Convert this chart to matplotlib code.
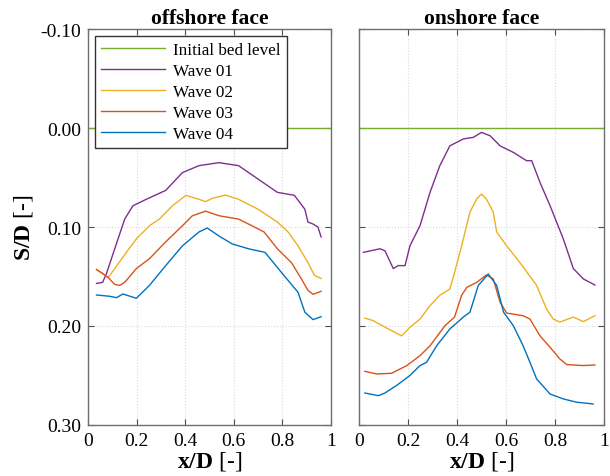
import matplotlib
matplotlib.use("Agg")
import matplotlib.pyplot as plt

plt.rcParams['font.family'] = ['Liberation Serif', 'DejaVu Serif']
plt.rcParams['mathtext.fontset'] = 'custom'
plt.rcParams['mathtext.rm'] = 'Liberation Serif'
plt.rcParams['mathtext.bf'] = 'Liberation Serif:bold'

# MATLAB default colours
c_init = '#77AC30'
c_w1 = '#7E2F8E'
c_w2 = '#EDB120'
c_w3 = '#D95319'
c_w4 = '#0072BD'

# ---- offshore face ----
off_x1 = [0.035, 0.06, 0.076, 0.11, 0.151, 0.185, 0.24, 0.32, 0.389, 0.457, 0.539, 0.62, 0.70, 0.78, 0.85, 0.893, 0.906, 0.927, 0.947, 0.96]
off_w1 = [0.157, 0.156, 0.147, 0.122, 0.092, 0.0785, 0.072, 0.063, 0.045, 0.038, 0.035, 0.038, 0.0515, 0.065, 0.068, 0.082, 0.095, 0.097, 0.100, 0.110]

off_x2 = [0.035, 0.06, 0.083, 0.11, 0.158, 0.199, 0.253, 0.294, 0.348, 0.403, 0.457, 0.484, 0.512, 0.566, 0.62, 0.70, 0.78, 0.824, 0.865, 0.906, 0.933, 0.96]
off_w2 = [0.143, 0.147, 0.151, 0.142, 0.1256, 0.112, 0.0987, 0.092, 0.0785, 0.068, 0.072, 0.0744, 0.071, 0.0677, 0.072, 0.082, 0.095, 0.105, 0.119, 0.136, 0.149, 0.152]

off_x3 = [0.035, 0.06, 0.083, 0.11, 0.13, 0.145, 0.158, 0.199, 0.253, 0.32, 0.389, 0.43, 0.484, 0.539, 0.62, 0.675, 0.725, 0.78, 0.838, 0.879, 0.906, 0.927, 0.96]
off_w3 = [0.143, 0.147, 0.151, 0.158, 0.159, 0.157, 0.154, 0.142, 0.132, 0.115, 0.0987, 0.0886, 0.084, 0.0886, 0.092, 0.0987, 0.105, 0.122, 0.136, 0.1525, 0.164, 0.168, 0.165]

off_x4 = [0.035, 0.09, 0.117, 0.144, 0.199, 0.253, 0.32, 0.389, 0.457, 0.491, 0.539, 0.593, 0.661, 0.729, 0.797, 0.865, 0.893, 0.927, 0.96]
off_w4 = [0.1687, 0.170, 0.1714, 0.1677, 0.172, 0.159, 0.139, 0.119, 0.105, 0.101, 0.109, 0.117, 0.122, 0.1256, 0.146, 0.166, 0.186, 0.1936, 0.1906]

# ---- onshore face ----
on_x1 = [0.018, 0.086, 0.106, 0.14, 0.16, 0.188, 0.208, 0.249, 0.29, 0.33, 0.371, 0.426, 0.467, 0.50, 0.535, 0.576, 0.63, 0.684, 0.705, 0.739, 0.78, 0.834, 0.875, 0.916, 0.963]
on_w1 = [0.1256, 0.122, 0.124, 0.142, 0.139, 0.139, 0.119, 0.0987, 0.065, 0.038, 0.018, 0.011, 0.0094, 0.0044, 0.0078, 0.018, 0.0246, 0.033, 0.033, 0.055, 0.0785, 0.112, 0.142, 0.1525, 0.1586]

on_x2 = [0.024, 0.058, 0.12, 0.174, 0.208, 0.249, 0.29, 0.33, 0.371, 0.39, 0.419, 0.453, 0.48, 0.50, 0.52, 0.548, 0.562, 0.582, 0.603, 0.657, 0.725, 0.766, 0.793, 0.82, 0.875, 0.916, 0.963]
on_w2 = [0.192, 0.1946, 0.203, 0.21, 0.2013, 0.193, 0.1795, 0.169, 0.1626, 0.146, 0.119, 0.085, 0.0717, 0.0667, 0.0717, 0.085, 0.105, 0.112, 0.119, 0.136, 0.159, 0.183, 0.193, 0.196, 0.191, 0.1956, 0.1896]

on_x3 = [0.024, 0.072, 0.133, 0.195, 0.249, 0.29, 0.351, 0.39, 0.419, 0.44, 0.48, 0.52, 0.548, 0.576, 0.603, 0.67, 0.698, 0.739, 0.78, 0.82, 0.848, 0.916, 0.963]
on_w3 = [0.2458, 0.2485, 0.2478, 0.24, 0.23, 0.22, 0.1997, 0.191, 0.169, 0.161, 0.156, 0.1485, 0.1525, 0.176, 0.187, 0.1896, 0.193, 0.21, 0.2215, 0.2333, 0.239, 0.24, 0.2394]

on_x4 = [0.024, 0.079, 0.106, 0.154, 0.208, 0.249, 0.276, 0.317, 0.371, 0.426, 0.453, 0.487, 0.528, 0.562, 0.59, 0.63, 0.67, 0.698, 0.725, 0.78, 0.834, 0.889, 0.956]
on_w4 = [0.2677, 0.2704, 0.2677, 0.26, 0.25, 0.24, 0.2367, 0.22, 0.203, 0.191, 0.186, 0.159, 0.1475, 0.159, 0.186, 0.1997, 0.22, 0.2367, 0.2535, 0.2687, 0.2737, 0.277, 0.2788]

init_x = [0, 1]
init_s = [0, 0]

labels = ['Initial bed level', 'Wave 01', 'Wave 02', 'Wave 03', 'Wave 04']

fig = plt.figure(figsize=(6.1, 4.77), dpi=100)
ax1 = fig.add_axes([0.1443, 0.107, 0.398, 0.830])
ax2 = fig.add_axes([0.5885, 0.107, 0.4016, 0.830])

panels = [
    (ax1, 'offshore face', [(off_x1, off_w1), (off_x2, off_w2), (off_x3, off_w3), (off_x4, off_w4)]),
    (ax2, 'onshore face', [(on_x1, on_w1), (on_x2, on_w2), (on_x3, on_w3), (on_x4, on_w4)]),
]

for ax, title, series in panels:
    ax.plot(init_x, init_s, color=c_init, lw=1.0, label=labels[0])
    for (xs, ys), col, lab in zip(series, [c_w1, c_w2, c_w3, c_w4], labels[1:]):
        ax.plot(xs, ys, color=col, lw=1.0, label=lab)
    ax.set_xlim(0, 1)
    ax.set_ylim(0.30, -0.10)
    ax.set_xticks([0, 0.2, 0.4, 0.6, 0.8, 1])
    ax.set_xticklabels(['0', '0.2', '0.4', '0.6', '0.8', '1'])
    ax.set_yticks([-0.10, 0.0, 0.10, 0.20, 0.30])
    ax.set_yticklabels(['-0.10', '0.00', '0.10', '0.20', '0.30'])
    ax.grid(True, color='#d9d9d9', linestyle=':', linewidth=0.8)
    ax.tick_params(direction='in', top=True, right=True, labelsize=14, length=4,
                   color='#4d4d4d', pad=5)
    for sp in ax.spines.values():
        sp.set_color('#6e6e6e')
        sp.set_linewidth(1.0)
    ax.set_title(title, fontsize=15.5, fontweight='bold', pad=4)
    ax.set_xlabel(r'$\mathbf{x/D}$ [-]', fontsize=17, labelpad=0)

ax2.tick_params(labelleft=False)
ax1.set_ylabel(r'$\mathbf{S/D}$ [-]', fontsize=17, labelpad=4)

leg = ax1.legend(loc='upper left', fontsize=12.3, handlelength=3.75, borderaxespad=0.4,
                 fancybox=False, framealpha=1, edgecolor='#333333',
                 labelspacing=0.3, borderpad=0.35, handletextpad=0.5)
leg.get_frame().set_linewidth(1.0)

fig.savefig('out.png', dpi=100)
